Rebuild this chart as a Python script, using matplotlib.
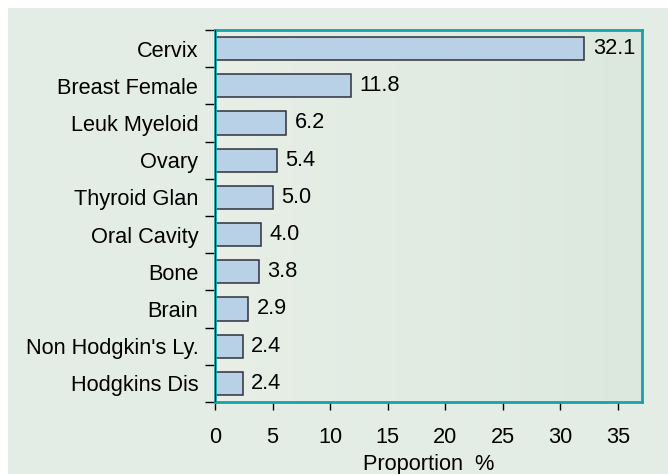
import numpy as np
import matplotlib
matplotlib.use('Agg')
import matplotlib.pyplot as plt
from matplotlib.colors import LinearSegmentedColormap

plt.rcParams['font.family'] = ['Liberation Sans', 'DejaVu Sans']

# 数据
sites = ['Cervix', 'Breast Female', 'Leuk Myeloid', 'Ovary', 'Thyroid Glan',
         'Oral Cavity', 'Bone', 'Brain', "Non Hodgkin's Ly.", 'Hodgkins Dis']
proportion = [32.1, 11.8, 6.2, 5.4, 5.0, 4.0, 3.8, 2.9, 2.4, 2.4]
xticks = [0, 5, 10, 15, 20, 25, 30, 35]

fs = 15.7

fig = plt.figure(figsize=(6.68, 4.74), dpi=100)
fig.patch.set_facecolor('white')
# 背景框（左上留白）
fig.add_artist(plt.Rectangle((8 / 668, 0), 1 - 8 / 668, 1 - 8 / 474,
                             transform=fig.transFigure, facecolor='#e4ede5',
                             edgecolor='none', zorder=-10))

ax = fig.add_axes([215 / 668, 1 - 402 / 474, 427 / 668, 372 / 474])
ax.set_facecolor('none')

n = len(sites)
y = np.arange(n)
xmax = 37.1

# 渐变背景
cmap = LinearSegmentedColormap.from_list('bg', ['#e7efe7', '#dce8de'])
ax.imshow(np.linspace(0, 1, 256).reshape(1, -1), cmap=cmap, aspect='auto',
          extent=[0, xmax, n - 0.5, -0.5], zorder=0)

ax.barh(y, proportion, height=0.62, color='#b8d1e7', edgecolor='#30303c',
        linewidth=1.1, zorder=2)

for yi, v in zip(y, proportion):
    ax.annotate(f'{v:.1f}', (v, yi), xytext=(6, 0), textcoords='offset points',
                va='center', ha='left', fontsize=fs, zorder=3)

ax.set_xlim(0, xmax)
ax.set_ylim(n - 0.5, -0.5)

ax.set_yticks(y)
ax.set_yticklabels(sites, fontsize=fs)
ax.set_yticks(np.arange(n + 1) - 0.5, minor=True)
ax.tick_params(axis='y', which='major', length=0, pad=12)
ax.tick_params(axis='y', which='minor', length=7, width=1, color='black')

ax.set_xticks(xticks)
ax.set_xticklabels([str(t) for t in xticks], fontsize=fs)
ax.tick_params(axis='x', length=6, width=1, pad=12)
ax.set_xlabel('Proportion  %', fontsize=fs, labelpad=4)

for s in ax.spines.values():
    s.set_color('#17a2a8')
    s.set_linewidth(2)
ax.axvline(0, color='black', linewidth=1.2, zorder=4)

plt.savefig('out.png', dpi=100)
plt.close()
